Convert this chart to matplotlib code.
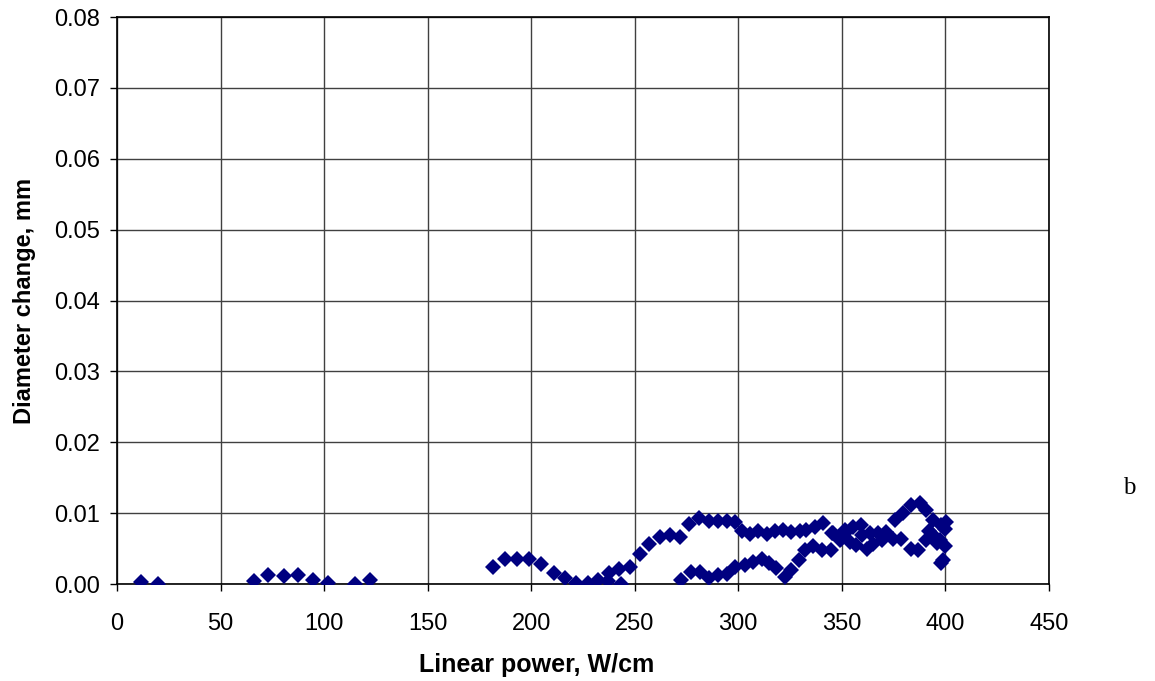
import matplotlib.pyplot as plt
import numpy as np

plt.rcParams['font.family'] = ['Liberation Sans', 'DejaVu Sans']

# linear power (W/cm) and diameter change (mm) readings
power = [
    11.7, 19.8, 66, 73, 80.5, 87.5, 94.5, 102, 115, 122,
    181.6, 187.3, 193.3, 199.1, 204.7, 211, 216.5, 221.6, 227.3, 232.3,
    237, 237.6, 243.2, 242.6, 248, 252.7, 257, 262.2, 267, 271.8,
    276.3, 281.2, 285.8, 290.3, 294.7, 298.7, 302, 305.6, 309.6, 313.7,
    317.7, 321.7, 325.7, 329.8, 333, 337, 341,
    272.3, 277, 281.5, 286, 290.3, 294.7, 298.7, 303.2, 307.2, 311.3,
    315, 318.5, 322.6, 325.7, 329.3, 332.2, 336.2, 340.3, 345, 345.5,
    349.8, 352.2,
    345.9, 351.5, 355.6, 359.5, 363.6, 367.6, 371.6, 375.6, 379.7, 383.7,
    387.6, 390.9, 394.1, 398.1, 400.6,
    349, 354, 360, 364.9, 369.5, 374.8, 378.8, 383.7, 386.9, 390.9,
    394.1, 397.4, 399.8, 399, 398.1, 400, 357, 362, 392, 396,
]
dia = [
    0.0003, 0.0, 0.0004, 0.0013, 0.0011, 0.0013, 0.0005, 0.0002, 0.0, 0.0005,
    0.0024, 0.0035, 0.0035, 0.0035, 0.0028, 0.0015, 0.0009, 0.0002, 0.0002, 0.0006,
    0.0004, 0.0015, 0.0, 0.0021, 0.0024, 0.0043, 0.0056, 0.0066, 0.0069, 0.0066,
    0.0085, 0.0093, 0.0089, 0.0089, 0.0089, 0.0088, 0.0075, 0.0071, 0.0075, 0.0070,
    0.0075, 0.0076, 0.0073, 0.0075, 0.0076, 0.0081, 0.0086,
    0.0006, 0.0017, 0.0017, 0.0009, 0.0013, 0.0014, 0.0024, 0.0027, 0.0031, 0.0036,
    0.0029, 0.0022, 0.0010, 0.0020, 0.0034, 0.0048, 0.0053, 0.0048, 0.0048, 0.0072,
    0.0064, 0.0074,
    0.0072, 0.0076, 0.0081, 0.0083, 0.0072, 0.0072, 0.0074, 0.0090, 0.0100, 0.0111,
    0.0114, 0.0104, 0.0090, 0.0083, 0.0088,
    0.0062, 0.0060, 0.0069, 0.0057, 0.0062, 0.0064, 0.0064, 0.0050, 0.0048, 0.0062,
    0.0069, 0.0062, 0.0053, 0.0034, 0.0029, 0.0078, 0.0055, 0.0050, 0.0075, 0.0058,
]

xticks = np.arange(0, 451, 50)
yticks = np.arange(0, 0.0801, 0.01)

fig = plt.figure(figsize=(11.55, 6.81), dpi=100)
ax = fig.add_axes([0.1013, 0.1424, 0.8067, 0.8326])

ax.plot(power, dia, linestyle='none', marker='D', markersize=8.5,
        color='#000080', markeredgewidth=0, zorder=3)

ax.set_xlim(0, 450)
ax.set_ylim(0, 0.08)
ax.set_xticks(xticks)
ax.set_yticks(yticks)
ax.set_xticklabels([str(v) for v in xticks])
ax.set_yticklabels(['%.2f' % v for v in yticks])
ax.grid(True, color='#404040', linewidth=1.0)
ax.set_axisbelow(True)
ax.tick_params(direction='out', length=5, width=1, labelsize=17)
ax.tick_params(axis='x', pad=16)
ax.tick_params(axis='y', pad=7)
for s in ax.spines.values():
    s.set_linewidth(1.2)
    s.set_color('black')

ax.set_xlabel('Linear power, W/cm', fontsize=18, fontweight='bold', labelpad=13)
ax.xaxis.label.set_x(0.45)
ax.set_ylabel('Diameter change, mm', fontsize=17, fontweight='bold', labelpad=13)

fig.text(0.978, 0.283, 'b', fontsize=18, family='Liberation Serif',
         ha='center', va='center')

fig.savefig('out.png', dpi=100)
